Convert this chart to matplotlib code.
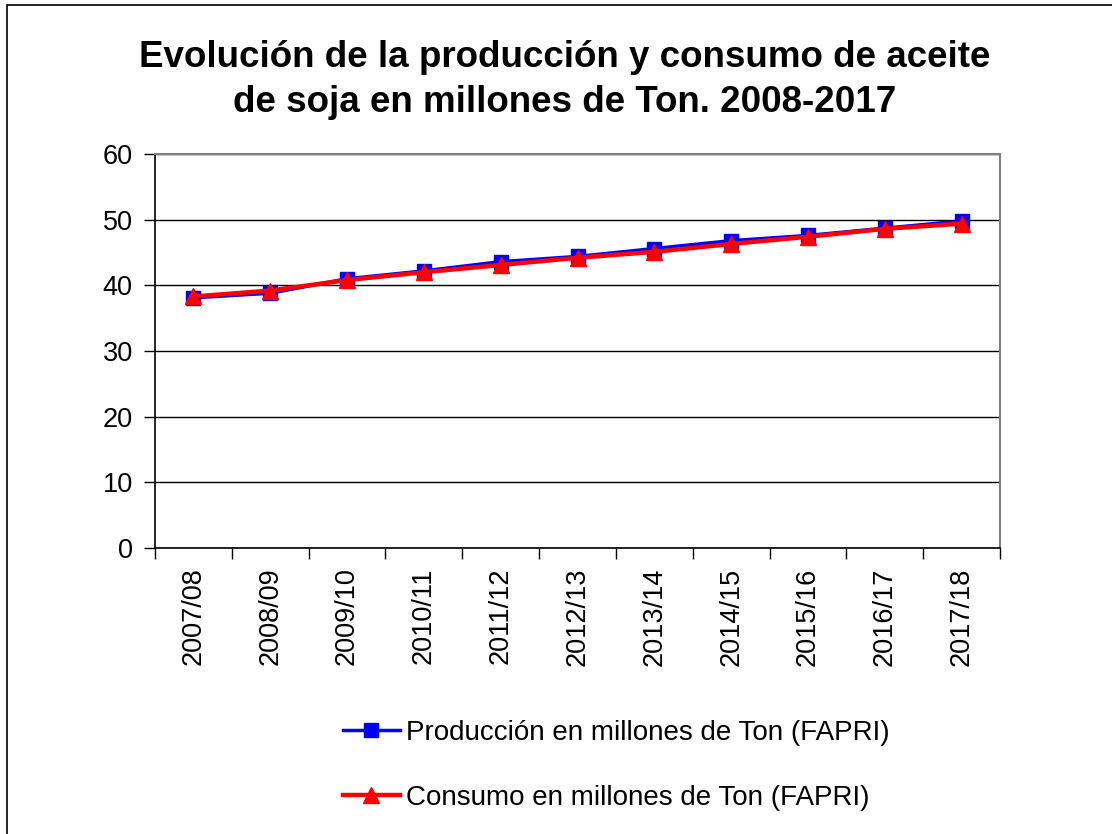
import matplotlib
matplotlib.use("Agg")
import matplotlib.pyplot as plt
from matplotlib.patches import Rectangle

categories = ["2007/08", "2008/09", "2009/10", "2010/11", "2011/12", "2012/13",
              "2013/14", "2014/15", "2015/16", "2016/17", "2017/18"]
produccion = [38.1, 38.8, 41.0, 42.2, 43.6, 44.4, 45.6, 46.8, 47.6, 48.7, 49.8]
consumo = [38.3, 39.2, 40.8, 42.0, 43.1, 44.2, 45.1, 46.3, 47.4, 48.6, 49.4]
yticks = [0, 10, 20, 30, 40, 50, 60]

title = "Evolución de la producción y consumo de aceite\nde soja en millones de Ton. 2008-2017"
label_prod = "Producción en millones de Ton (FAPRI)"
label_cons = "Consumo en millones de Ton (FAPRI)"

plt.rcParams['font.family'] = ['Liberation Sans', 'DejaVu Sans']

W, H = 1112, 834
fig = plt.figure(figsize=(W / 100, H / 100), dpi=100)

# outer frame (right/bottom cut off)
fig.patches.append(Rectangle((7 / W, 0 - 0.1), 1.2, (H - 5) / H + 0.1,
                             transform=fig.transFigure, fill=False,
                             edgecolor='black', linewidth=1.2))

ax = fig.add_axes([155 / W, 1 - 548 / H, (1000 - 155) / W, (548 - 154) / H])
x = list(range(len(categories)))
ax.plot(x, produccion, color='#0000FF', linewidth=2.5, marker='s', markersize=10,
        label=label_prod, zorder=3)
ax.plot(x, consumo, color='#FF0000', linewidth=3.2, marker='^', markersize=12,
        label=label_cons, zorder=4)

ax.set_xlim(-0.5, len(categories) - 0.5)
ax.set_ylim(0, 60)
ax.set_yticks(yticks)
ax.set_yticklabels([str(v) for v in yticks], fontsize=19.5)
ax.yaxis.grid(True, color='black', linewidth=1)
ax.set_axisbelow(True)

ax.set_xticks(x)
ax.set_xticklabels(categories, rotation=90, fontsize=19.5)
ax.tick_params(axis='x', which='major', length=0, pad=14)
ax.set_xticks([i - 0.5 for i in range(len(categories) + 1)], minor=True)
ax.tick_params(axis='x', which='minor', length=8, width=1, direction='out')
ax.tick_params(axis='y', length=8, width=1, direction='out', pad=8)

for s in ['top', 'right']:
    ax.spines[s].set_color('#808080')
    ax.spines[s].set_linewidth(1.5)
ax.spines['left'].set_linewidth(1.2)
ax.spines['bottom'].set_linewidth(1.2)

fig.text(565 / W, 1 - 80 / H, title, ha='center', va='center', fontsize=26.5,
         fontweight='bold', linespacing=1.37)

ax.legend(loc='upper left', bbox_to_anchor=(343 / W, 1 - 720 / H),
          bbox_transform=fig.transFigure, frameon=False, fontsize=20,
          labelspacing=1.4, handlelength=2.05, handletextpad=0.2, borderpad=0,
          borderaxespad=0)

fig.savefig("out.png", dpi=100)
